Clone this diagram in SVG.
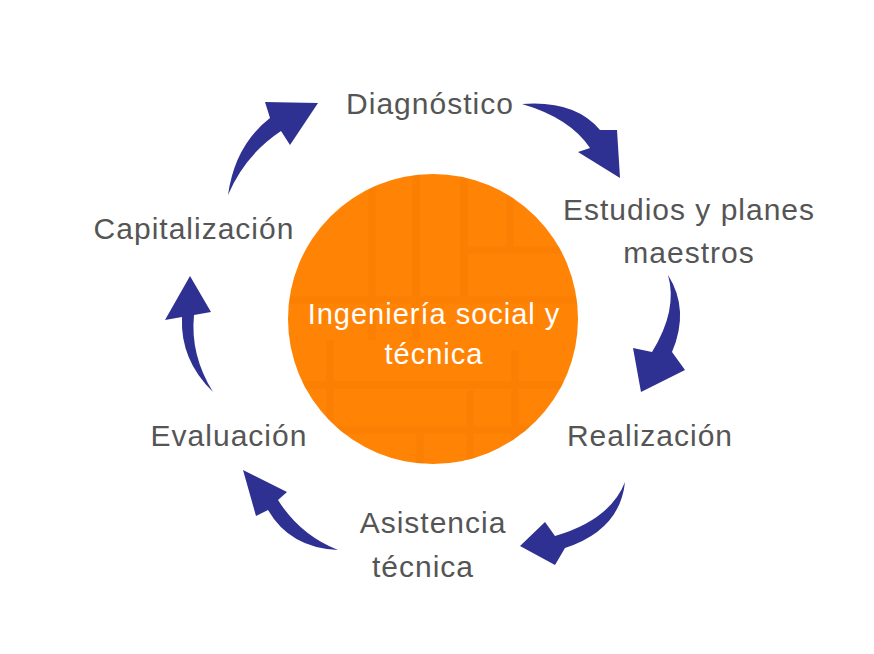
<svg xmlns="http://www.w3.org/2000/svg" width="874" height="654" viewBox="0 0 874 654">
<style>
.l{font-family:"Liberation Sans",Arial,sans-serif;font-size:30px;letter-spacing:1px;fill:#555;text-anchor:middle}
.c{font-family:"Liberation Sans",Arial,sans-serif;font-size:29px;letter-spacing:1px;fill:#fff;text-anchor:middle}
.a{fill:#2E3191}
.t{stroke:#F47A00;stroke-width:7;fill:none;opacity:0.45}
</style>
<defs><clipPath id="cc"><circle cx="433" cy="319" r="145"/></clipPath></defs>
<rect width="874" height="654" fill="#fff"/>
<g id="center">
<circle cx="433" cy="319" r="145" fill="#FF8305"/>
<g clip-path="url(#cc)">
<path class="t" d="M372,170V340M416,170V340M464,170V300M510,170V250M465,250H600M280,300H600M330,340V420M280,385H600M420,430V470M470,390V470M515,350V470M280,430H600"/>
</g>
<text class="c" x="434" y="324">Ingeniería social y</text>
<text class="c" x="434" y="364">técnica</text>
</g>
<g id="n1"><text class="l" x="430" y="114">Diagnóstico</text></g>
<g id="n2"><text class="l" x="689" y="220">Estudios y planes</text><text class="l" x="689" y="263">maestros</text></g>
<g id="n3"><text class="l" x="650" y="446">Realización</text></g>
<g id="n4"><text class="l" x="433" y="533">Asistencia</text><text class="l" x="423" y="577">técnica</text></g>
<g id="n5"><text class="l" x="229" y="446">Evaluación</text></g>
<g id="n6"><text class="l" x="194" y="239">Capitalización</text></g>
<g id="connectors">
<path class="a" d="M522,104 Q575,100 600,130 L617,130 L620,178 L578,152 L590,148 Q570,118 522,104 Z"/>
<path class="a" d="M668,275 Q690,310 672,352 L685,370 L641,392 L633,348 L652,352 Q678,310 668,275 Z"/>
<path class="a" d="M625,482 Q620,530 565,548 L555,565 L520,546 L545,522 L555,536 Q610,520 625,482 Z"/>
<path class="a" d="M338,550 Q290,548 268,510 L256,516 L243,470 L287,492 L278,500 Q300,535 338,550 Z"/>
<path class="a" d="M213,392 Q180,360 182,317 L165,320 L190,276 L211,312 L194,315 Q190,355 213,392 Z"/>
<path class="a" d="M228,195 Q235,145 270,118 L265,102 L318,103 L290,145 L281,131 Q245,155 228,195 Z"/>
</g>
</svg>
